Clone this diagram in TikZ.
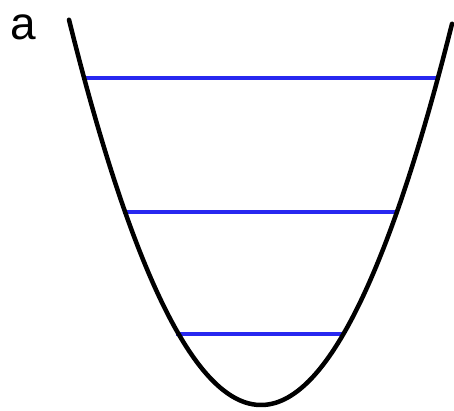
\documentclass[tikz,border=0pt]{standalone}
\usepackage{fontspec}
\setmainfont{Liberation Sans}
\usetikzlibrary{positioning}
\definecolor{levelblue}{RGB}{40,40,240}

\begin{document}
\begin{tikzpicture}[x=1pt, y=-1pt,
    well/.style={line width=4.5pt, line cap=round},
    level/.style={levelblue, line width=3.2pt}]
  \useasboundingbox (0,0) rectangle (454,410);

  % energy levels
  \coordinate (l0a) at (176,334); \coordinate (l0b) at (343,334);
  \coordinate (l1a) at (123,212); \coordinate (l1b) at (398,212);
  \coordinate (l2a) at (85,78);   \coordinate (l2b) at (437,78);
  \foreach \n in {0,1,2}
    \draw[level] (l\n a) -- (l\n b);

  % potential well
  \draw[well] plot[domain=-192:191, samples=120, smooth] ({261+\x},{405-1.045*(\x/10)^2});

  \node[inner sep=0pt, font=\fontsize{46}{56}\selectfont] (lbl) at (23,27) {a};
\end{tikzpicture}
\end{document}
